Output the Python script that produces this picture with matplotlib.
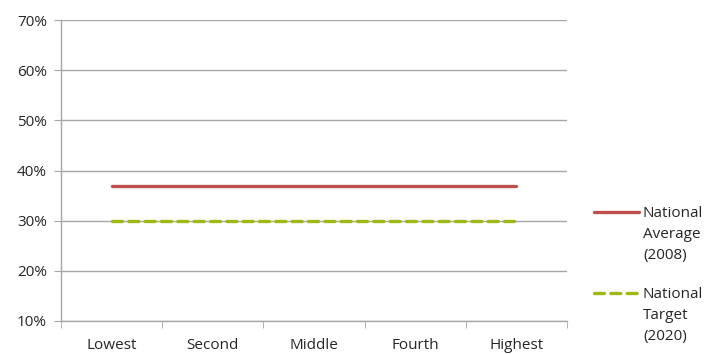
import matplotlib
matplotlib.use("Agg")
import matplotlib.pyplot as plt
from matplotlib.lines import Line2D
from matplotlib.ticker import FixedLocator, PercentFormatter

categories = ["Lowest", "Second", "Middle", "Fourth", "Highest"]
national_average_2008 = [37, 37, 37, 37, 37]
national_target_2020 = [30, 30, 30, 30, 30]
series_labels = ["National\nAverage\n(2008)", "National\nTarget\n(2020)"]
y_ticks = [10, 20, 30, 40, 50, 60, 70]

RED = "#C0504D"
GREEN = "#9DB913"
GRID = "#A6A6A6"
TEXT = "#262626"
FS = 11

plt.rcParams["font.family"] = ["Open Sans", "DejaVu Sans"]

fig = plt.figure(figsize=(7.23, 3.54), dpi=100)
W, H = 723, 354
ax = fig.add_axes([61 / W, 1 - 321 / H, (567 - 61) / W, (321 - 20) / H])

x = list(range(len(categories)))
ax.plot(x, national_average_2008, color=RED, lw=2.4, solid_capstyle="round", zorder=3)
ax.plot(x, national_target_2020, color=GREEN, lw=2.4, dashes=(3.0, 1.9),
        dash_capstyle="round", zorder=3)

ax.set_xlim(-0.5, len(categories) - 0.5)
ax.set_ylim(y_ticks[0], y_ticks[-1])
ax.yaxis.set_major_locator(FixedLocator(y_ticks))
ax.yaxis.set_major_formatter(PercentFormatter(decimals=0))
ax.set_xticks(x)
ax.set_xticklabels(categories)
ax.xaxis.set_minor_locator(FixedLocator([i - 0.5 for i in range(len(categories) + 1)]))

ax.grid(axis="y", color=GRID, lw=1.0)
ax.set_axisbelow(True)
for s in ["top", "right"]:
    ax.spines[s].set_visible(False)
for s in ["left", "bottom"]:
    ax.spines[s].set_color(GRID)
    ax.spines[s].set_linewidth(1.0)

ax.tick_params(axis="y", which="major", length=5, color=GRID, labelsize=FS,
               labelcolor=TEXT, pad=5)
ax.tick_params(axis="x", which="major", length=0, labelsize=FS, labelcolor=TEXT, pad=12)
ax.tick_params(axis="x", which="minor", length=5, color=GRID)

# legend on the right, handle level with the first text line
legend_items = [(RED, None, 212), (GREEN, (3.0, 1.9), 293)]
for (color, dash, ypix), label in zip(legend_items, series_labels):
    yf = 1 - ypix / H
    kw = dict(color=color, lw=2.4, transform=fig.transFigure)
    if dash:
        kw.update(dashes=dash, dash_capstyle="round")
    else:
        kw.update(solid_capstyle="round")
    fig.add_artist(Line2D([594 / W, 639 / W], [yf, yf], **kw))
    fig.text(643 / W, yf + 6 / H, label, ha="left", va="top", fontsize=FS,
             color=TEXT, linespacing=1.53)

fig.savefig("out.png", dpi=100)
